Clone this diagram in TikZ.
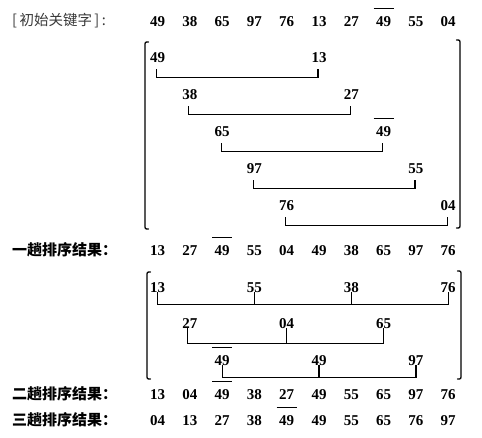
\documentclass[tikz,border=0pt]{standalone}
\usepackage{fontspec}
\newfontfamily\numfont{Liberation Serif}
\newfontfamily\cjk{Noto Sans CJK SC}
\newcommand\obar[1]{\rlap{\hspace{-2.5pt}\raisebox{17pt}{\rule{20pt}{1.1pt}}}#1}
\tikzset{
  num/.style={inner sep=0pt, text height=10pt, text depth=0pt,
    font=\numfont\bfseries\fontsize{15}{15}\selectfont},
  lab/.style={anchor=west, inner sep=0pt, font=\cjk\fontsize{14.5}{15}\selectfont},
  conn/.style={line width=1.2pt},
  brk/.style={line width=1.3pt, line cap=round},
}
\begin{document}
\begin{tikzpicture}[x=1pt,y=-1pt]
\useasboundingbox (0,0) rectangle (482,437);
\def\cx#1{157.5+32.3*#1}
% labels
\node[lab, text=black!78] (lab0) at (12,21) {[\,初始关键字\,]\,:};
\node[lab, font=\cjk\bfseries\fontsize{15}{15}\selectfont] (lab1) at (12,250) {一趟排序结果：};
\node[lab, font=\cjk\bfseries\fontsize{15}{15}\selectfont] (lab2) at (12,394) {二趟排序结果：};
\node[lab, font=\cjk\bfseries\fontsize{15}{15}\selectfont] (lab3) at (12,420) {三趟排序结果：};
% rows
\foreach \v [count=\i from 0] in {49,38,65,97,76,13,27,{\obar{49}},55,04}
  \node[num] (r0c\i) at ({\cx{\i}},21) {\v};
\foreach \v [count=\i from 0] in {13,27,{\obar{49}},55,04,49,38,65,97,76}
  \node[num] (r1c\i) at ({\cx{\i}},250) {\v};
\foreach \v [count=\i from 0] in {13,04,{\obar{49}},38,27,49,55,65,97,76}
  \node[num] (r2c\i) at ({\cx{\i}},394) {\v};
\foreach \v [count=\i from 0] in {04,13,27,38,{\obar{49}},49,55,65,76,97}
  \node[num] (r3c\i) at ({\cx{\i}},420) {\v};
% group 1
\node[num] (g1a) at ({\cx{0}},57) {49};
\node[num] (g1b) at ({\cx{5}},57) {13};
\node[num] (g2a) at ({\cx{1}},94) {38};
\node[num] (g2b) at ({\cx{6}},94) {27};
\node[num] (g3a) at ({\cx{2}},131) {65};
\node[num] (g3b) at ({\cx{7}},131) {\obar{49}};
\node[num] (g4a) at ({\cx{3}},168) {97};
\node[num] (g4b) at ({\cx{8}},168) {55};
\node[num] (g5a) at ({\cx{4}},205) {76};
\node[num] (g5b) at ({\cx{9}},205) {04};
\foreach \p in {g1,g2,g3,g4,g5}
  \draw[conn] ([xshift=-1pt,yshift=-7pt]\p a.south) -- ++(0pt,-8pt) -| ([xshift=-1pt,yshift=-7pt]\p b.south);
% group 2
\node[num] (h1a) at ({\cx{0}},287) {13};
\node[num] (h1b) at ({\cx{3}},287) {55};
\node[num] (h1c) at ({\cx{6}},287) {38};
\node[num] (h1d) at ({\cx{9}},287) {76};
\node[num] (h2a) at ({\cx{1}},323) {27};
\node[num] (h2b) at ({\cx{4}},323) {04};
\node[num] (h2c) at ({\cx{7}},323) {65};
\node[num] (h3a) at ({\cx{2}},360) {\obar{49}};
\node[num] (h3b) at ({\cx{5}},360) {49};
\node[num] (h3c) at ({\cx{8}},360) {97};
\draw[conn] (h1a.south) -- ++(0pt,-12pt) coordinate (l1) -| (h1d.south);
\draw[conn] (h1b.south) -- (h1b.south |- l1);
\draw[conn] (h1c.south) -- (h1c.south |- l1);
\draw[conn] ([xshift=-2pt]h2a.south) -- ++(0pt,-15pt) coordinate (l2) -| (h2c.south);
\draw[conn] (h2b.south) -- (h2b.south |- l2);
\draw[conn] (h3a.south) -- ++(0pt,-12pt) coordinate (l3) -| (h3c.south);
\draw[conn] (h3b.south) -- (h3b.south |- l3);
% brackets
\draw[brk] (148.5,42) .. controls (145,42) .. (145,46) -- (145,225) .. controls (145,229) .. (148.5,229);
\draw[brk] (456.5,40) .. controls (460,40) .. (460,44) -- (460,224) .. controls (460,228) .. (456.5,228);
\draw[brk] (150.5,272) .. controls (147,272) .. (147,276) -- (147,375) .. controls (147,379) .. (150.5,379);
\draw[brk] (457.5,271) .. controls (461,271) .. (461,275) -- (461,375) .. controls (461,379) .. (457.5,379);
\end{tikzpicture}
\end{document}
